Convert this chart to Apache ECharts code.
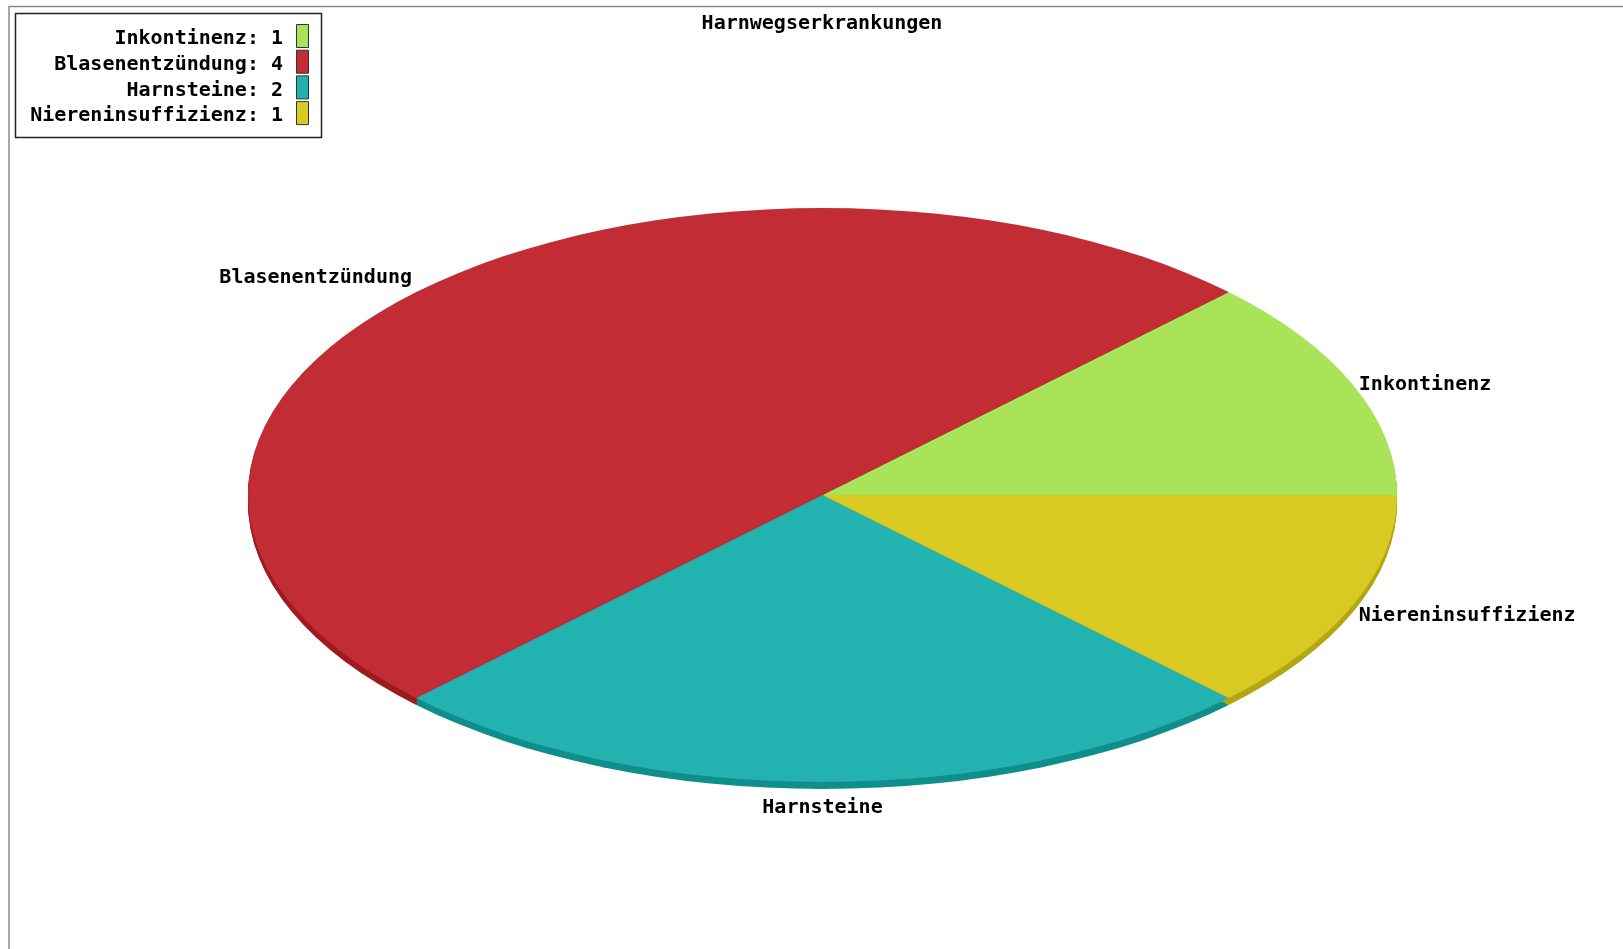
<!DOCTYPE html>
<html>
<head>
<meta charset="utf-8">
<script src="https://cdn.jsdelivr.net/npm/echarts@6/dist/echarts.min.js"></script>
<style>
html,body{margin:0;padding:0;background:#fff;}
#main{width:1623px;height:949px;}
</style>
</head>
<body>
<div id="main"></div>
<script>
// ---- data ----
const categories = ['Inkontinenz', 'Blasenentzündung', 'Harnsteine', 'Niereninsuffizienz'];
const values = [1, 4, 2, 1];
const titleText = 'Harnwegserkrankungen';

// ---- styles ----
const colors = ['#a9e357', '#c12c35', '#23b2b0', '#d8ca22'];
const sideColors = ['#86bf3a', '#9f1b20', '#108f8c', '#b3a612'];
const FONT = 'DejaVu Sans Mono';
const FS = 20;
const FW = 'bold';

// ---- layout ----
const CX = 822.5, CY = 495, RX = 574.5, RY = 287, DEPTH = 7;
const K = RY / RX;

const total = values.reduce((a, b) => a + b, 0);
const cum = [0];
values.forEach((v, i) => cum.push(cum[i] + v));

function renderItem(params, api) {
  const i = params.dataIndex;
  const v = api.value(0);
  const a0 = cum[i] / total * Math.PI * 2;
  const a1 = (cum[i] + v) / total * Math.PI * 2;
  const children = [];
  for (let d = DEPTH; d >= 1; d--) {
    children.push({
      type: 'sector', x: CX, y: CY + d, scaleY: K, z2: 1,
      shape: { cx: 0, cy: 0, r: RX, startAngle: -a1, endAngle: -a0 },
      style: { fill: sideColors[i] }
    });
  }
  children.push({
    type: 'sector', x: CX, y: CY, scaleY: K, z2: 10,
    shape: { cx: 0, cy: 0, r: RX, startAngle: -a1, endAngle: -a0 },
    style: { fill: colors[i] }
  });
  const mid = (a0 + a1) / 2;
  const c = Math.cos(mid), s = Math.sin(mid);
  const m = 6;
  let lx = CX + (RX + m) * c;
  let ly = CY - (RY + m) * s + (s < 0 ? DEPTH : 0);
  const align = c > 0.2 ? 'left' : (c < -0.2 ? 'right' : 'center');
  const valign = Math.abs(s) > 0.5 ? (s > 0 ? 'bottom' : 'top') : 'middle';
  if (valign === 'middle') ly += 2;
  if (valign === 'top') ly += 3;
  children.push({
    type: 'text', x: lx, y: ly, z2: 20,
    style: {
      text: categories[i], fill: '#000', fontFamily: FONT, fontSize: FS, fontWeight: FW,
      align: align, verticalAlign: valign
    }
  });
  return { type: 'group', children: children };
}

// legend graphics built from arrays
const legendGraphics = [];
legendGraphics.push({
  type: 'rect', shape: { x: 15.5, y: 13.5, width: 306, height: 124 },
  style: { fill: '#fff', stroke: '#222', lineWidth: 1.5 }, z: 5
});
categories.forEach((name, i) => {
  const top = 24 + i * 25.7;
  legendGraphics.push({
    type: 'rect', shape: { x: 296.5, y: top + 0.5, width: 12, height: 23 },
    style: { fill: colors[i], stroke: '#333', lineWidth: 1 }, z: 6
  });
  legendGraphics.push({
    type: 'text', x: 283, y: top + 15, z: 6,
    style: {
      text: name + ': ' + values[i], fill: '#000', fontFamily: FONT, fontSize: FS, fontWeight: FW,
      align: 'right', verticalAlign: 'middle'
    }
  });
});

const chart = echarts.init(document.getElementById('main'), null, { renderer: 'canvas' });
chart.setOption({
  backgroundColor: '#fff',
  animation: false,
  title: {
    text: titleText, left: 822, top: 14, textAlign: 'center', padding: 0,
    textStyle: { fontFamily: FONT, fontSize: FS, fontWeight: FW, color: '#000' }
  },
  graphic: [
    {
      type: 'rect', shape: { x: 9, y: 6.5, width: 1700, height: 1000 },
      style: { fill: 'transparent', stroke: '#8a8a8a', lineWidth: 1.5 }, z: 0
    }
  ].concat(legendGraphics),
  series: [{
    type: 'custom',
    coordinateSystem: 'none',
    data: values.map((v, i) => ({ name: categories[i], value: v })),
    renderItem: renderItem
  }]
});
</script>
</body>
</html>
